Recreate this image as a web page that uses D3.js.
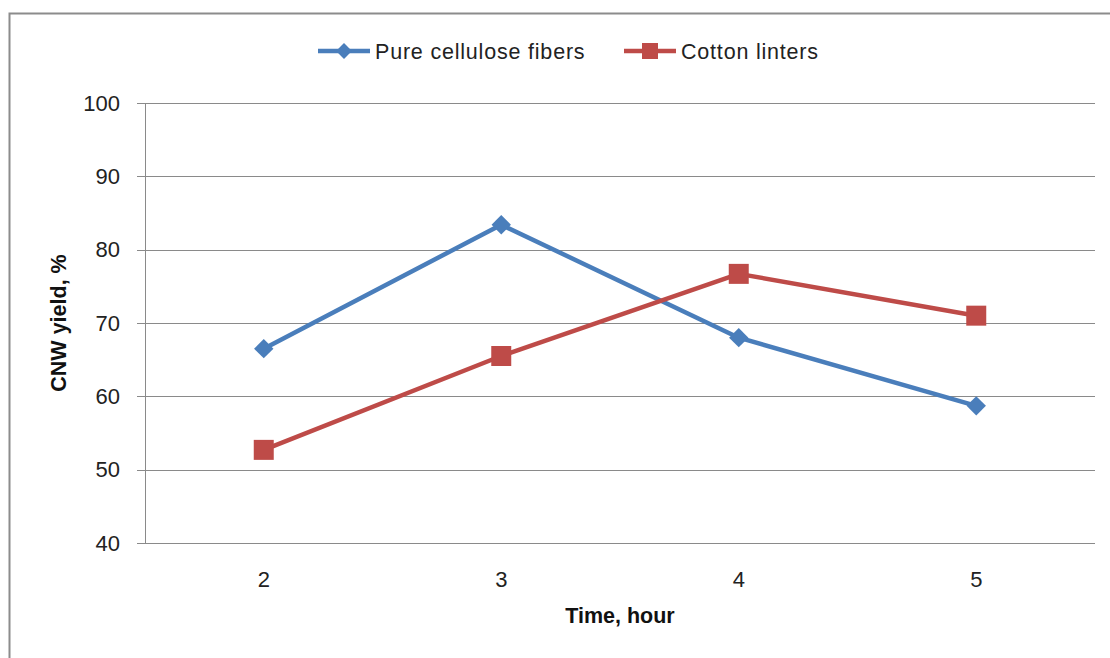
<!DOCTYPE html>
<html>
<head>
<meta charset="utf-8">
<script src="https://cdn.jsdelivr.net/npm/d3@7"></script>
<style>
  html, body { margin: 0; padding: 0; background: #fff; }
  svg { display: block; font-family: "Liberation Sans", Arial, sans-serif; }
</style>
</head>
<body>
<svg id="chart" width="1110" height="658"></svg>
<script>
const categories = ["2", "3", "4", "5"];
const pureCellulose = [66.5, 83.4, 68.0, 58.7];
const cottonLinters = [52.7, 65.5, 76.7, 71.0];
const yTicks = [40, 50, 60, 70, 80, 90, 100];
const seriesNames = ["Pure cellulose fibers", "Cotton linters"];

const svg = d3.select("#chart");
const W = 1110, H = 658;
const m = { left: 145, right: 1095, top: 103, bottom: 543 };

// outer frame
svg.append("rect").attr("x", 9.5).attr("y", 13.5).attr("width", W + 20).attr("height", H + 20)
  .attr("fill", "#fff").attr("stroke", "#8c8c8c").attr("stroke-width", 2);

const x = d3.scaleBand().domain(categories).range([m.left, m.right]);
const y = d3.scaleLinear().domain([40, 100]).range([m.bottom, m.top]);

// gridlines
svg.append("g").selectAll("line").data(yTicks).join("line")
  .attr("x1", m.left - 8).attr("x2", m.right)
  .attr("y1", d => Math.round(y(d)) + 0.5).attr("y2", d => Math.round(y(d)) + 0.5)
  .attr("stroke", "#8a8a8a").attr("stroke-width", 1);

// y axis line
svg.append("line").attr("x1", m.left + 0.5).attr("x2", m.left + 0.5)
  .attr("y1", m.top).attr("y2", m.bottom).attr("stroke", "#8a8a8a");

// y tick labels
svg.append("g").selectAll("text").data(yTicks).join("text")
  .attr("x", 120).attr("y", d => y(d) + 7.5)
  .attr("text-anchor", "end").attr("font-size", 22).attr("fill", "#222")
  .text(d => d);

// x tick labels
svg.append("g").selectAll("text").data(categories).join("text")
  .attr("x", d => x(d) + x.bandwidth() / 2).attr("y", 587)
  .attr("text-anchor", "middle").attr("font-size", 22).attr("fill", "#222")
  .text(d => d);

// axis titles
svg.append("text").attr("x", 620).attr("y", 623).attr("text-anchor", "middle")
  .attr("font-size", 21.5).attr("font-weight", "bold").attr("fill", "#111").text("Time, hour");
svg.append("text").attr("transform", "translate(66,323) rotate(-90)").attr("text-anchor", "middle")
  .attr("font-size", 21.5).attr("font-weight", "bold").attr("fill", "#111").text("CNW yield, %");

const colors = ["#4A7EBB", "#BE4B48"];
const data = [pureCellulose, cottonLinters];
const line = d3.line().x((d, i) => x(categories[i]) + x.bandwidth() / 2).y(d => y(d));

data.forEach((vals, si) => {
  svg.append("path").datum(vals).attr("d", line).attr("fill", "none")
    .attr("stroke", colors[si]).attr("stroke-width", 4.5).attr("stroke-linejoin", "round");
});

const diamond = d3.symbol().type(d3.symbolDiamond2).size(240);
const square = d3.symbol().type(d3.symbolSquare).size(400);

svg.append("g").selectAll("path").data(pureCellulose).join("path")
  .attr("transform", (d, i) => `translate(${x(categories[i]) + x.bandwidth() / 2},${y(d)})`)
  .attr("d", diamond).attr("fill", colors[0]);
svg.append("g").selectAll("path").data(cottonLinters).join("path")
  .attr("transform", (d, i) => `translate(${x(categories[i]) + x.bandwidth() / 2},${y(d)})`)
  .attr("d", square).attr("fill", colors[1]);

// legend
const legendItems = [
  { name: seriesNames[0], color: colors[0], sym: d3.symbol().type(d3.symbolDiamond2).size(160), x0: 318 },
  { name: seriesNames[1], color: colors[1], sym: d3.symbol().type(d3.symbolSquare).size(256), x0: 624 }
];
const lg = svg.append("g");
legendItems.forEach(it => {
  lg.append("line").attr("x1", it.x0).attr("x2", it.x0 + 52).attr("y1", 51).attr("y2", 51)
    .attr("stroke", it.color).attr("stroke-width", 4.5);
  lg.append("path").attr("transform", `translate(${it.x0 + 26},51)`).attr("d", it.sym).attr("fill", it.color);
  lg.append("text").attr("x", it.x0 + 57).attr("y", 58.5).attr("font-size", 21.5)
    .attr("letter-spacing", 0.8).attr("fill", "#222").text(it.name);
});
</script>
</body>
</html>
